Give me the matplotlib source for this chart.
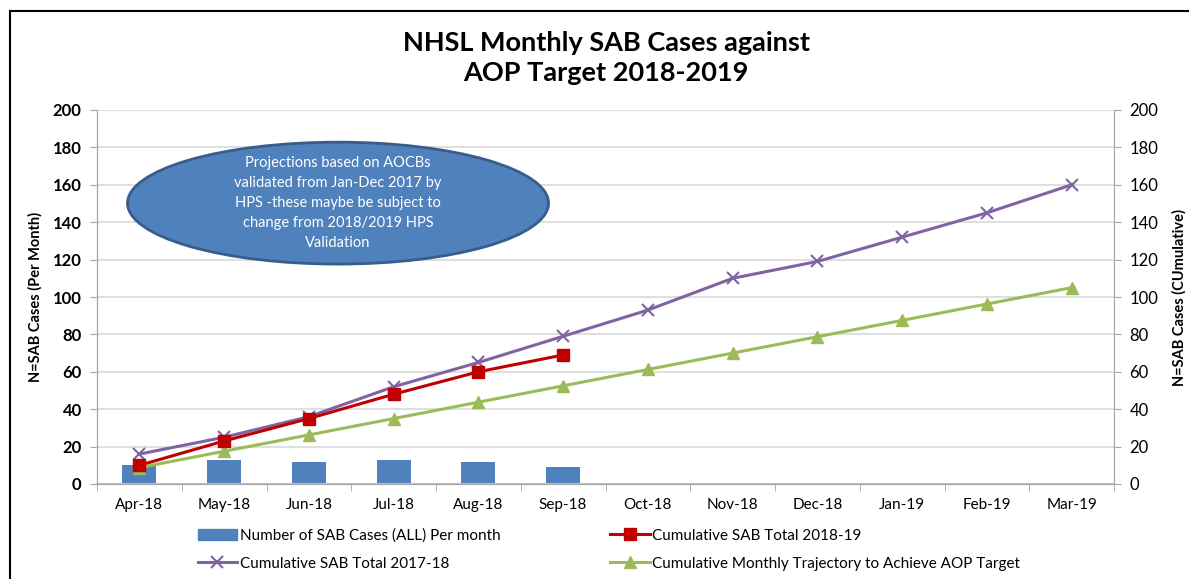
import matplotlib.pyplot as plt
from matplotlib.patches import Ellipse
from matplotlib.lines import Line2D
import numpy as np

plt.rcParams["font.family"] = ["Lato", "DejaVu Sans"]

months = ["Apr-18", "May-18", "Jun-18", "Jul-18", "Aug-18", "Sep-18",
          "Oct-18", "Nov-18", "Dec-18", "Jan-19", "Feb-19", "Mar-19"]
cases_per_month = [10, 13, 12, 13, 12, 9]
cum_2018_19 = [10, 23, 35, 48, 60, 69]
cum_2017_18 = [16, 25, 36, 52, 65, 79, 93, 110, 119, 132, 145, 160]
aop_trajectory = [8.75, 17.5, 26.25, 35, 43.75, 52.5, 61.25, 70, 78.75, 87.5, 96.25, 105]

BAR, RED, PURPLE, GREEN = "#4F81BD", "#C00000", "#8064A2", "#9BBB59"
GRID, SPINE = "#D9D9D9", "#A6A6A6"

fig = plt.figure(figsize=(11.89, 5.79), dpi=100)
ax = fig.add_axes([97 / 1189, 1 - 484 / 579, (1114 - 97) / 1189, 374 / 579])
ax2 = ax.twinx()

x = np.arange(len(months))
ax.bar(x[:len(cases_per_month)], cases_per_month, width=0.4, color=BAR, zorder=2)
ax2.plot(x, cum_2017_18, color=PURPLE, lw=2.2, marker="x", ms=8, mew=1.5, zorder=3)
ax2.plot(x[:len(cum_2018_19)], cum_2018_19, color=RED, lw=2.2, marker="s", ms=8, zorder=4)
ax2.plot(x, aop_trajectory, color=GREEN, lw=2.2, marker="^", ms=8, zorder=3)

for a in (ax, ax2):
    a.set_ylim(0, 200)
    a.set_yticks(range(0, 201, 20))
    a.set_xlim(-0.5, len(months) - 0.5)
    for s in a.spines.values():
        s.set_color(SPINE)
    a.spines["top"].set_visible(False)
ax.spines["bottom"].set_color("#BFBFBF")
ax.spines["bottom"].set_linewidth(1.5)
ax.grid(axis="y", color=GRID, lw=1.2, zorder=0)
ax.set_axisbelow(True)

ax.set_xticks(x)
ax.set_xticklabels(months, fontsize=11)
ax.set_xticks(np.arange(-0.5, len(months), 1), minor=True)
ax.tick_params(axis="x", which="major", length=0, pad=10)
ax.tick_params(axis="x", which="minor", length=5, color=SPINE)
ax.tick_params(axis="y", length=5, color=SPINE, labelsize=12, pad=6)
for lab in ax.get_yticklabels():
    lab.set_fontweight("bold")
ax2.tick_params(axis="y", length=5, color=SPINE, labelsize=12, pad=6)

ax.set_ylabel("N=SAB Cases (Per Month)", fontsize=10.5, fontweight="bold")
ax.yaxis.set_label_coords(-54 / 1017, 0.5)
ax2.set_ylabel("N=SAB Cases (CUmulative)", fontsize=10.5, fontweight="bold")
ax2.yaxis.set_label_coords(1 + 58 / 1017, 0.5)

fig.text(606 / 1189, 1 - 58 / 579, "NHSL Monthly SAB Cases against\nAOP Target 2018-2019",
         ha="center", va="center", fontsize=19.5, fontweight="bold", linespacing=1.3)

ell = Ellipse((0.237, 0.751), 0.414, 0.326, transform=ax.transAxes,
              facecolor=BAR, edgecolor="#385D8A", lw=2, zorder=6)
ax2.add_patch(ell)
ax2.text(0.237, 0.751, "Projections based on AOCBs\nvalidated from Jan-Dec 2017 by\n"
         "HPS -these maybe be subject to\nchange from 2018/2019 HPS\nValidation",
         transform=ax.transAxes, ha="center", va="center", color="white",
         fontsize=10.5, linespacing=1.55, zorder=7)

handles = [
    plt.Rectangle((0, 0), 1, 1, color=BAR),
    Line2D([], [], color=PURPLE, lw=2.2, marker="x", ms=8, mew=1.5),
    Line2D([], [], color=RED, lw=2.2, marker="s", ms=8),
    Line2D([], [], color=GREEN, lw=2.2, marker="^", ms=8),
]
labels = ["Number of SAB Cases (ALL) Per month", "Cumulative SAB Total 2017-18",
          "Cumulative SAB Total 2018-19", "Cumulative Monthly Trajectory to Achieve AOP Target"]
fig.legend(handles, labels, ncol=2, loc="center", bbox_to_anchor=(0.512, 0.051),
           frameon=False, fontsize=11, columnspacing=7.2, handlelength=2.6,
           handletextpad=0.15, labelspacing=0.9)

# outer chart frame (cropped at right and bottom)
fig.add_artist(Line2D([10 / 1189, 10 / 1189], [0, 1 - 11 / 579], color="black", lw=1.5,
                      transform=fig.transFigure))
fig.add_artist(Line2D([10 / 1189, 1], [1 - 11 / 579, 1 - 11 / 579], color="black", lw=1.5,
                      transform=fig.transFigure))

fig.savefig("out.png", dpi=100)
